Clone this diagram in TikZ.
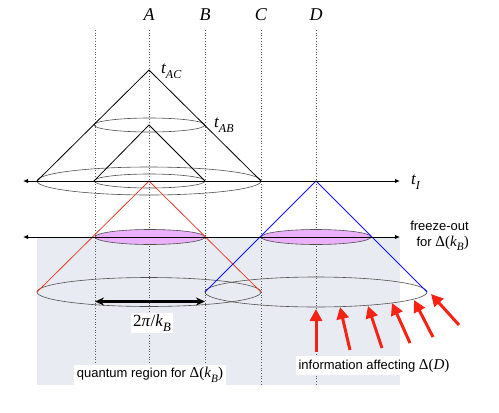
\documentclass[tikz,border=0pt]{standalone}
\usepackage{fontspec}
\setmainfont{Liberation Serif}
\setsansfont{Liberation Sans}
\newfontfamily\serifgr{Liberation Serif}
\usetikzlibrary{arrows.meta}
\definecolor{regiongray}{RGB}{232,236,242}
\definecolor{pinkfill}{RGB}{234,176,250}
\definecolor{conered}{RGB}{235,60,40}
\definecolor{coneblue}{RGB}{20,20,250}
\definecolor{arrred}{RGB}{245,35,20}
\definecolor{ellgray}{RGB}{80,80,80}
\newcommand{\mysub}[1]{\raisebox{-0.3em}{\scalebox{0.75}{\itshape #1}}}
\newcommand{\DeltaOf}[1]{{\serifgr\fontsize{15}{16}\selectfont Δ(#1)}}
\begin{document}
\begin{tikzpicture}[x=1pt,y=-1pt,
  vline/.style={draw=black!65, dotted, line width=0.7pt},
  ell/.style={draw=ellgray, line width=0.6pt},
  cone/.style={line width=0.8pt},
  axis/.style={line width=1pt, {Latex[length=5pt,width=4.5pt]}-{Latex[length=5pt,width=4.5pt]}},
  info/.style={-{Triangle[length=12pt,width=12pt]}, line width=3pt, draw=arrred},
  lab/.style={font=\fontsize{18}{20}\selectfont\itshape, inner sep=0pt},
  sanslab/.style={font=\sffamily\fontsize{13}{16}\selectfont},
  whitebox/.style={fill=white, inner sep=3pt}]
\useasboundingbox (0,0) rectangle (499,413);
% quantum region background
\coordinate (regTL) at (37,237);
\coordinate (regBR) at (400,385);
\fill[regiongray] (regTL) rectangle (regBR);
% vertical dotted world lines
\foreach \xx/\nm in {95/P,149/A,205/B,261/C,316/D}{
  \coordinate (top\nm) at (\xx,30);
  \coordinate (bot\nm) at (\xx,385);
  \draw[vline] (top\nm) -- (bot\nm);
}
% column labels
\node[lab] (labA) at (149,15) {A};
\node[lab] (labB) at (205,15) {B};
\node[lab] (labC) at (261,15) {C};
\node[lab] (labD) at (316,15) {D};
% ellipses
\draw[ell] (149.5,125) ellipse [x radius=55.5pt, y radius=7pt];
\draw[ell] (149,181) ellipse [x radius=112pt, y radius=14pt];
\draw[ell] (149.5,181) ellipse [x radius=55.5pt, y radius=7pt];
\draw[ell, fill=pinkfill] (150,237) ellipse [x radius=55pt, y radius=7.5pt];
\draw[ell, fill=pinkfill] (316,237) ellipse [x radius=55pt, y radius=7.5pt];
\draw[ell] (149,292) ellipse [x radius=112pt, y radius=14.5pt];
\draw[ell] (316,292) ellipse [x radius=111pt, y radius=15pt];
% cones
\coordinate (tac) at (149,70);
\coordinate (tab) at (149,125);
\coordinate (lI) at (37,181);
\coordinate (rI) at (261,181);
\coordinate (lIs) at (94,181);
\coordinate (rIs) at (205,181);
\draw[cone] (lI) -- (tac) -- (rI);
\draw[cone] (lIs) -- (tab) -- (rIs);
\coordinate (aI) at (149,181);
\coordinate (lF) at (37,292);
\coordinate (rF) at (261,292);
\draw[cone, conered] (lF) -- (aI) -- (rF);
\coordinate (dI) at (316,181);
\coordinate (lG) at (205,292);
\coordinate (rG) at (427,292);
\draw[cone, coneblue] (lG) -- (dI) -- (rG);
% axes
\coordinate (axL) at (23,181);
\coordinate (axR) at (400,181);
\draw[axis] (axL) -- (axR);
\coordinate (fzL) at (23,237);
\coordinate (fzR) at (400,237);
\draw[axis] (fzL) -- (fzR);
% wavelength arrow
\coordinate (kL) at (95,301.5);
\coordinate (kR) at (205,301.5);
\draw[line width=2.2pt, {Stealth[length=9pt,width=8pt]}-{Stealth[length=9pt,width=8pt]}] (kL) -- (kR);
\node[whitebox, inner sep=2pt, font=\fontsize{17}{18}\selectfont] (wl) at (152,323) {2\textit{π}/\textit{k}\mysub{B}};
% information arrows
\foreach \i/\tx/\ty/\hx/\hy in {1/316/352/316/309, 2/350/350/340/307, 3/382/348/368/306, 4/410/343/392/303, 5/433/337/414/300, 6/459/325/431/294}{
  \coordinate (it\i) at (\tx,\ty);
  \coordinate (ih\i) at (\hx,\hy);
  \draw[info] (it\i) -- (ih\i);
}
% labels
\node[anchor=west, inner sep=0pt] (ltac) at (161,71) {\fontsize{17}{17}\selectfont\itshape t\raisebox{-0.3em}{\fontsize{12}{12}\selectfont AC}};
\node[anchor=west, inner sep=0pt] (ltab) at (214,125) {\fontsize{17}{17}\selectfont\itshape t\raisebox{-0.3em}{\fontsize{12}{12}\selectfont AB}};
\node[anchor=west, inner sep=0pt] (lti) at (411,182) {\fontsize{17}{17}\selectfont\itshape t\raisebox{-0.3em}{\fontsize{12}{12}\selectfont I}};
\node[sanslab, anchor=east, align=right, inner sep=0pt] (lfz) at (469,236) {freeze-out\\for \DeltaOf{\textit{k}\mysub{B}}};
\node[sanslab, whitebox] (linfo) at (374,365.5) {information affecting \DeltaOf{\textit{D}}};
\node[sanslab, whitebox] (lquant) at (150,375) {quantum region for \DeltaOf{\textit{k}\mysub{B}}};
\end{tikzpicture}
\end{document}
